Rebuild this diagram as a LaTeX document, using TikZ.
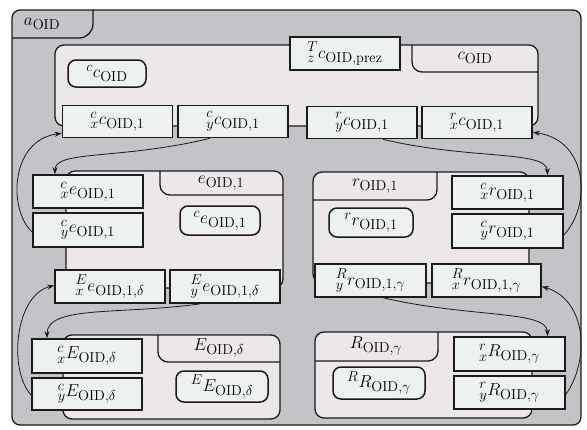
\documentclass[tikz,border=0pt]{standalone}
\usetikzlibrary{arrows.meta}
\DeclareMathSizes{18}{18}{13.5}{10}
\newcommand\oid{\mathrm{OID}}
\definecolor{framegrey}{HTML}{C4C3C8}
\definecolor{contfill}{HTML}{ECE7E9}
\definecolor{boxfill}{HTML}{EDF1EF}
\definecolor{linec}{HTML}{1A1A1A}
\begin{document}
\begin{tikzpicture}[x=1pt,y=-1pt,font=\fontsize{18}{21}\selectfont,
 frame/.style={draw=linec,line width=1.3pt,fill=framegrey,rounded corners=8pt},
 cont/.style={draw=linec,line width=1.3pt,fill=contfill,rounded corners=9pt},
 tabline/.style={draw=linec,line width=1.3pt,rounded corners=10pt},
 vbox/.style={draw=linec,line width=1.7pt,fill=boxfill,inner sep=0pt,minimum width=110pt,minimum height=33pt},
 ibox/.style={draw=linec,line width=1.5pt,fill=boxfill,rounded corners=8pt,inner sep=0pt},
 lbl/.style={inner sep=0pt},
 arr/.style={draw=linec,line width=0.8pt,-{Stealth[length=7pt,width=5pt]}}]
\useasboundingbox (0,0) rectangle (587,429);
% outer frame
\draw[frame] (12,10) rectangle (581,425);
\draw[tabline,rounded corners=14pt] (93,10) -- (93,38) -- (12,38);
\node[lbl] (ta) at (42,24) {$a_{\oid}$};
% containers
\draw[cont] (55,45) rectangle (538,126);
\draw[tabline] (412,45) -- (412,72) -- (538,72);
\node[lbl] (tc) at (475,58) {$c_{\oid}$};
\draw[cont] (66,171) rectangle (283,288);
\draw[tabline] (160,171) -- (160,195) -- (283,195);
\node[lbl] (te) at (221,183) {$e_{\oid,1}$};
\draw[cont] (313,172) rectangle (529,283);
\draw[tabline] (313,200) -- (437,200) -- (437,172);
\node[lbl] (tr) at (375,186) {$r_{\oid,1}$};
\draw[cont] (63,335) rectangle (280,419);
\draw[tabline] (158,335) -- (158,362) -- (280,362);
\node[lbl] (tE) at (219,348) {$E_{\oid,\delta}$};
\draw[cont] (315,332) rectangle (532,418);
\draw[tabline] (315,361) -- (438,361) -- (438,332);
\node[lbl] (tR) at (376,346) {$R_{\oid,\gamma}$};
% inner rounded boxes
\node[ibox,minimum width=78pt,minimum height=27pt] (cc) at (107,73.5) {${}^{c}c_{\oid}$};
\node[ibox,minimum width=80pt,minimum height=29pt] (ce) at (220,220.5) {${}^{c}e_{\oid,1}$};
\node[ibox,minimum width=84pt,minimum height=29pt] (rr) at (371,222.5) {${}^{r}r_{\oid,1}$};
\node[ibox,minimum width=92pt,minimum height=31pt] (EE) at (222,386.5) {${}^{E}E_{\oid,\delta}$};
\node[ibox,minimum width=92pt,minimum height=32pt] (RR) at (379,383) {${}^{R}R_{\oid,\gamma}$};
% boxes
\node[vbox] (Tc) at (345,53.5) {${}^{T}_{z}c_{\oid,\mathrm{prez}}$};
\node[vbox,minimum height=32pt] (xcc) at (117.5,121.5) {${}^{c}_{x}c_{\oid,1}$};
\node[vbox,minimum height=32pt] (ycc) at (233,121.5) {${}^{c}_{y}c_{\oid,1}$};
\node[vbox,minimum height=32pt] (ycr) at (362,122.5) {${}^{r}_{y}c_{\oid,1}$};
\node[vbox,minimum height=32pt] (xcr) at (477,122.5) {${}^{r}_{x}c_{\oid,1}$};
\node[vbox] (xec) at (88,191.5) {${}^{c}_{x}e_{\oid,1}$};
\node[vbox,minimum height=34pt] (yec) at (88,230) {${}^{c}_{y}e_{\oid,1}$};
\node[vbox] (xeE) at (110,286.5) {${}^{E}_{x}e_{\oid,1,\delta}$};
\node[vbox] (yeE) at (225,286.5) {${}^{E}_{y}e_{\oid,1,\delta}$};
\node[vbox,minimum width=111pt] (xrc) at (507.5,192.5) {${}^{c}_{x}r_{\oid,1}$};
\node[vbox,minimum width=111pt,minimum height=34pt] (yrc) at (507.5,231) {${}^{c}_{y}r_{\oid,1}$};
\node[vbox,minimum width=111pt] (yrR) at (370.5,280.5) {${}^{R}_{y}r_{\oid,1,\gamma}$};
\node[vbox,minimum width=109pt] (xrR) at (486.5,280.5) {${}^{R}_{x}r_{\oid,1,\gamma}$};
\node[vbox,minimum height=34pt] (xEc) at (87,356) {${}^{c}_{x}E_{\oid,\delta}$};
\node[vbox,minimum height=32pt] (yEc) at (87,394) {${}^{c}_{y}E_{\oid,\delta}$};
\node[vbox,minimum width=111pt,minimum height=34pt] (xRr) at (509.5,354) {${}^{r}_{x}R_{\oid,\gamma}$};
\node[vbox,minimum width=111pt] (yRr) at (509.5,392.5) {${}^{r}_{y}R_{\oid,\gamma}$};
% connectors
\draw[arr] ([xshift=-23pt]ycc.south) .. controls (120,160) and (55,150) .. ([xshift=-33pt]xec.north);
\draw[arr] ([yshift=-2pt]yec.west) .. controls (8,210) and (10,140) .. ([yshift=5pt]xcc.south west);
\draw[arr] ([xshift=21pt]ycr.south) .. controls (470,160) and (547,150) .. ([xshift=40pt]xrc.north);
\draw[arr] ([yshift=-4pt]yrc.east) .. controls (592,205) and (588,140) .. ([yshift=7pt]xcr.south east);
\draw[arr] ([xshift=-25pt]yeE.south) .. controls (120,315) and (47,305) .. ([xshift=-40pt]xEc.north);
\draw[arr] ([yshift=-1pt]yEc.west) .. controls (8,370) and (15,295) .. ([yshift=1pt]xeE.west);
\draw[arr] ([xshift=13pt]yrR.south) .. controls (470,318) and (547,310) .. ([xshift=38pt]xRr.north);
\draw[arr] ([yshift=-2pt]yRr.east) .. controls (590,360) and (587,300) .. ([yshift=-6pt]xrR.east);
\end{tikzpicture}
\end{document}
